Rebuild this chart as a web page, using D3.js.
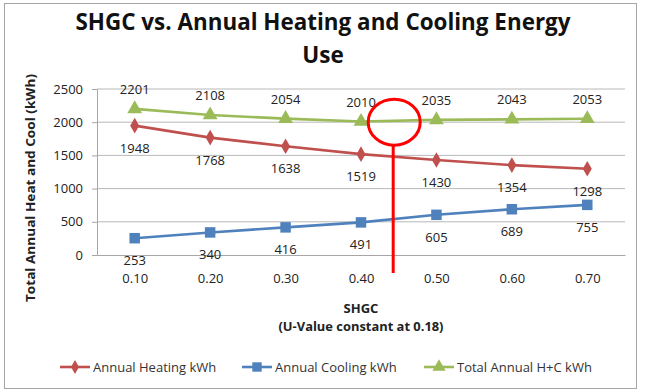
<!DOCTYPE html>
<html>
<head>
<meta charset="utf-8">
<script src="https://cdn.jsdelivr.net/npm/d3@7"></script>
<style>
  body { margin: 0; background: #fff; }
  svg text { font-family: "Open Sans", "DejaVu Sans", sans-serif; }
</style>
</head>
<body>
<svg id="chart"></svg>
<script>
// data
var shgc = ["0.10", "0.20", "0.30", "0.40", "0.50", "0.60", "0.70"];
var heating = [1948, 1768, 1638, 1519, 1430, 1354, 1298];
var cooling = [253, 340, 416, 491, 605, 689, 755];
var total = [2201, 2108, 2054, 2010, 2035, 2043, 2053];
var yTicks = [0, 500, 1000, 1500, 2000, 2500];
var seriesNames = ["Annual Heating kWh", "Annual Cooling kWh", "Total Annual H+C kWh"];
// hand-drawn mark: circle + line between 0.40 and 0.50
var markIndex = 3.44, markValue = 2000;

var width = 645, height = 392;
var svg = d3.select("#chart").attr("width", width).attr("height", height);

// outer frame
svg.append("rect")
    .attr("x", 4.5).attr("y", 3.5)
    .attr("width", 632).attr("height", 385)
    .attr("fill", "#fff").attr("stroke", "#a6a6a6");

var x = d3.scaleLinear().domain([-0.5, 6.5]).range([97, 625]);
var y = d3.scaleLinear().domain([0, 2500]).range([255, 89]);

// gridlines
svg.selectAll(".grid")
    .data(yTicks.slice(1))
    .enter().append("line")
    .attr("x1", 97).attr("x2", 625)
    .attr("y1", function(d){ return y(d); })
    .attr("y2", function(d){ return y(d); })
    .attr("stroke", "#a6a6a6").attr("stroke-width", 0.8);

// y axis
var yAxis = d3.axisLeft(y).tickValues(yTicks).tickSize(5).tickPadding(9).tickFormat(d3.format("d"));
var gy = svg.append("g").attr("transform", "translate(97,0)").call(yAxis);
gy.select(".domain").attr("stroke", "#a6a6a6");
gy.selectAll(".tick line").attr("stroke", "#a6a6a6");
gy.selectAll(".tick text").attr("font-size", 13).attr("fill", "#222");

// x axis
var gx = svg.append("g").attr("transform", "translate(0,255)")
    .call(d3.axisBottom(x).tickValues(d3.range(7)).tickSize(0).tickPadding(19)
        .tickFormat(function(i){ return shgc[i]; }));
gx.select(".domain").attr("stroke", "#a6a6a6");
gx.selectAll(".tick text").attr("font-size", 13).attr("fill", "#222");

// titles
var title = svg.append("text")
    .attr("text-anchor", "middle")
    .attr("font-size", 22.5).attr("font-weight", "bold").attr("fill", "#111");
title.append("tspan").attr("x", 323).attr("y", 30)
    .attr("textLength", 495).attr("lengthAdjust", "spacingAndGlyphs")
    .text("SHGC vs. Annual Heating and Cooling Energy");
title.append("tspan").attr("x", 323).attr("y", 63).text("Use");

svg.append("text")
    .attr("transform", "translate(35,188) rotate(-90)")
    .attr("text-anchor", "middle")
    .attr("font-size", 13).attr("font-weight", "bold").attr("fill", "#222")
    .attr("textLength", 228).attr("lengthAdjust", "spacingAndGlyphs")
    .text("Total Annual Heat and Cool (kWh)");

svg.append("text").attr("x", 361).attr("y", 313)
    .attr("text-anchor", "middle").attr("font-size", 13).attr("font-weight", "bold").attr("fill", "#222")
    .text("SHGC");
svg.append("text").attr("x", 361).attr("y", 331)
    .attr("text-anchor", "middle").attr("font-size", 13).attr("font-weight", "bold").attr("fill", "#222")
    .attr("textLength", 165).attr("lengthAdjust", "spacingAndGlyphs")
    .text("(U-Value constant at 0.18)");

var series = [
    { name: seriesNames[0], values: heating, color: "#c0504d", shape: d3.symbolDiamond, size: 70, dy: 27 },
    { name: seriesNames[1], values: cooling, color: "#4f81bd", shape: d3.symbolSquare, size: 110, dy: 27 },
    { name: seriesNames[2], values: total, color: "#9bbb59", shape: d3.symbolTriangle, size: 95, dy: -15 }
];

var line = d3.line()
    .x(function(d, i){ return x(i); })
    .y(function(d){ return y(d); });

series.forEach(function(s){
    svg.append("path")
        .datum(s.values)
        .attr("d", line)
        .attr("fill", "none")
        .attr("stroke", s.color)
        .attr("stroke-width", 2.6);
    svg.selectAll(null)
        .data(s.values)
        .enter().append("path")
        .attr("d", d3.symbol().type(s.shape).size(s.size))
        .attr("transform", function(d, i){ return "translate(" + x(i) + "," + y(d) + ")"; })
        .attr("fill", s.color);
    svg.selectAll(null)
        .data(s.values)
        .enter().append("text")
        .attr("x", function(d, i){ return x(i); })
        .attr("y", function(d){ return y(d) + s.dy; })
        .attr("text-anchor", "middle")
        .attr("font-size", 13).attr("fill", "#222")
        .text(function(d){ return d; });
});

// red annotation
var cx = x(markIndex), cy = y(markValue);
svg.append("ellipse")
    .attr("cx", cx).attr("cy", cy).attr("rx", 26).attr("ry", 23)
    .attr("fill", "none").attr("stroke", "#ff0000").attr("stroke-width", 3);
svg.append("line")
    .attr("x1", cx - 1).attr("x2", cx - 1)
    .attr("y1", cy + 23).attr("y2", 273)
    .attr("stroke", "#ff0000").attr("stroke-width", 3);

// legend
var legendX = [60, 242, 424];
var leg = svg.selectAll(".legend")
    .data(series)
    .enter().append("g")
    .attr("transform", function(d, i){ return "translate(" + legendX[i] + ",367)"; });
leg.append("line")
    .attr("x1", 0).attr("x2", 30)
    .attr("stroke", function(d){ return d.color; })
    .attr("stroke-width", 2.6);
leg.append("path")
    .attr("d", function(d){ return d3.symbol().type(d.shape).size(d.size * 0.8)(); })
    .attr("transform", "translate(15,0)")
    .attr("fill", function(d){ return d.color; });
leg.append("text")
    .attr("x", 33).attr("y", 5)
    .attr("font-size", 13).attr("fill", "#333")
    .text(function(d){ return d.name; });
</script>
</body>
</html>
